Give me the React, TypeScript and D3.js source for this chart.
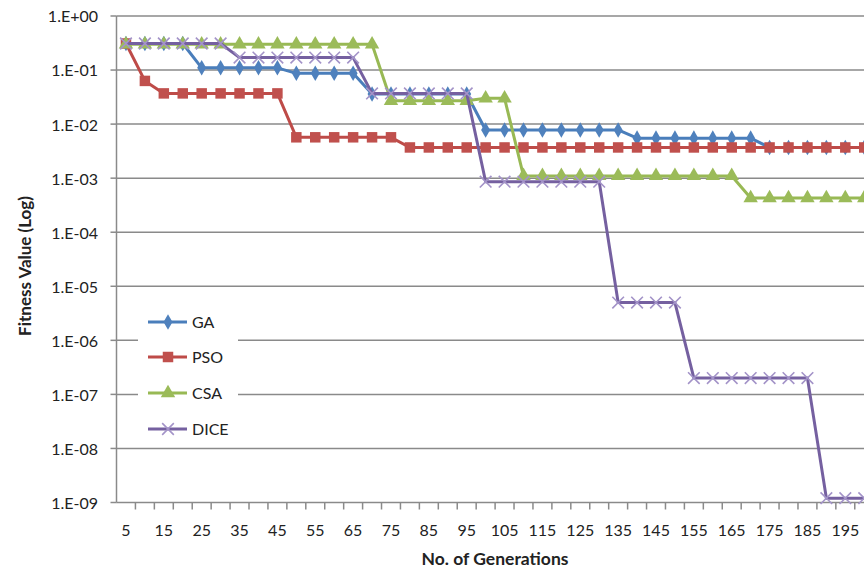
import React, { useEffect, useRef } from 'react';
import * as d3 from 'd3';

const generations = [5, 10, 15, 20, 25, 30, 35, 40, 45, 50, 55, 60, 65, 70, 75, 80, 85, 90, 95, 100,
    105, 110, 115, 120, 125, 130, 135, 140, 145, 150, 155, 160, 165, 170, 175, 180, 185, 190, 195, 200];

const gaValues = [0.31, 0.31, 0.31, 0.31, 0.11, 0.11, 0.11, 0.11, 0.11, 0.087, 0.087, 0.087, 0.087,
    0.036, 0.036, 0.036, 0.036, 0.036, 0.036, 0.0078, 0.0078, 0.0078, 0.0078, 0.0078, 0.0078, 0.0078, 0.0078,
    0.0055, 0.0055, 0.0055, 0.0055, 0.0055, 0.0055, 0.0055, 0.0037, 0.0037, 0.0037, 0.0037, 0.0037, 0.0037];

const psoValues = [0.31, 0.063, 0.037, 0.037, 0.037, 0.037, 0.037, 0.037, 0.037, 0.0057, 0.0057, 0.0057,
    0.0057, 0.0057, 0.0057, 0.0037, 0.0037, 0.0037, 0.0037, 0.0037, 0.0037, 0.0037, 0.0037, 0.0037, 0.0037,
    0.0037, 0.0037, 0.0037, 0.0037, 0.0037, 0.0037, 0.0037, 0.0037, 0.0037, 0.0037, 0.0037, 0.0037, 0.0037,
    0.0037, 0.0037];

const csaValues = [0.3, 0.3, 0.3, 0.3, 0.3, 0.3, 0.3, 0.3, 0.3, 0.3, 0.3, 0.3, 0.3, 0.3, 0.027, 0.027,
    0.027, 0.027, 0.027, 0.03, 0.03, 0.0011, 0.0011, 0.0011, 0.0011, 0.0011, 0.0011, 0.0011, 0.0011, 0.0011,
    0.0011, 0.0011, 0.0011, 0.00043, 0.00043, 0.00043, 0.00043, 0.00043, 0.00043, 0.00043];

const diceValues = [0.31, 0.31, 0.31, 0.31, 0.31, 0.31, 0.17, 0.17, 0.17, 0.17, 0.17, 0.17, 0.17, 0.037,
    0.037, 0.037, 0.037, 0.037, 0.037, 0.00086, 0.00086, 0.00086, 0.00086, 0.00086, 0.00086, 0.00086, 5e-6,
    5e-6, 5e-6, 5e-6, 2e-7, 2e-7, 2e-7, 2e-7, 2e-7, 2e-7, 2e-7, 1.2e-9, 1.2e-9, 1.2e-9];

const seriesNames = ['GA', 'PSO', 'CSA', 'DICE'];
const yTicks = [1, 1e-1, 1e-2, 1e-3, 1e-4, 1e-5, 1e-6, 1e-7, 1e-8, 1e-9];
const yTickLabels = ['1.E+00', '1.E-01', '1.E-02', '1.E-03', '1.E-04', '1.E-05', '1.E-06', '1.E-07', '1.E-08', '1.E-09'];
const xTickLabels = [5, 15, 25, 35, 45, 55, 65, 75, 85, 95, 105, 115, 125, 135, 145, 155, 165, 175, 185, 195];

const App = () => {
    const ref = useRef(null);

    useEffect(() => {
        drawChart();
    }, []);

    const drawChart = () => {
        const root = d3.select(ref.current);
        root.selectAll('*').remove();

        const width = 864;
        const height = 570;
        const font = 'Lato, "Open Sans", sans-serif';

        const svg = root.append('svg')
            .attr('width', width)
            .attr('height', height)
            .style('display', 'block')
            .style('background', '#fff');

        const left = 116.5;
        const top = 16;
        const bottom = 502.5;
        const step = 18.93;

        const xScale = d3.scaleBand()
            .domain(generations.map(String))
            .range([left, left + generations.length * step])
            .paddingInner(0)
            .paddingOuter(0);
        const cx = (g) => xScale(String(g)) + xScale.bandwidth() / 2;

        const yScale = d3.scaleLog()
            .domain([1e-9, 1])
            .range([bottom, top]);

        const gridColor = '#8a8a8a';

        // horizontal gridlines
        svg.append('g')
            .selectAll('line')
            .data(yTicks)
            .enter()
            .append('line')
            .attr('x1', left)
            .attr('x2', width)
            .attr('y1', d => yScale(d))
            .attr('y2', d => yScale(d))
            .attr('stroke', gridColor)
            .attr('stroke-width', 1.5);

        // y axis line and ticks
        svg.append('line')
            .attr('x1', left).attr('x2', left)
            .attr('y1', top).attr('y2', bottom)
            .attr('stroke', gridColor).attr('stroke-width', 1.5);

        svg.append('g')
            .selectAll('line')
            .data(yTicks)
            .enter()
            .append('line')
            .attr('x1', left - 6).attr('x2', left)
            .attr('y1', d => yScale(d)).attr('y2', d => yScale(d))
            .attr('stroke', gridColor).attr('stroke-width', 1.5);

        svg.append('g')
            .selectAll('text')
            .data(yTicks)
            .enter()
            .append('text')
            .attr('x', 98)
            .attr('y', d => yScale(d))
            .attr('dy', '0.4em')
            .attr('text-anchor', 'end')
            .attr('font-family', font)
            .attr('font-size', 16)
            .attr('fill', '#222')
            .text((d, i) => yTickLabels[i]);

        // x ticks at category boundaries
        svg.append('g')
            .selectAll('line')
            .data(generations)
            .enter()
            .append('line')
            .attr('x1', d => xScale(String(d)) + xScale.bandwidth())
            .attr('x2', d => xScale(String(d)) + xScale.bandwidth())
            .attr('y1', bottom).attr('y2', bottom + 7)
            .attr('stroke', gridColor).attr('stroke-width', 1.5);

        svg.append('g')
            .selectAll('text')
            .data(xTickLabels)
            .enter()
            .append('text')
            .attr('x', d => cx(d))
            .attr('y', 536)
            .attr('text-anchor', 'middle')
            .attr('font-family', font)
            .attr('font-size', 16)
            .attr('fill', '#222')
            .text(d => d);

        // legend background (covers gridlines)
        svg.append('rect')
            .attr('x', 138).attr('y', 304)
            .attr('width', 100).attr('height', 142)
            .attr('fill', '#fff');

        const series = [
            { name: seriesNames[0], values: gaValues, line: '#4a7ebb', fill: '#4f81bd', symbol: d3.symbolDiamond, size: 70 },
            { name: seriesNames[1], values: psoValues, line: '#be4b48', fill: '#c0504d', symbol: d3.symbolSquare, size: 110 },
            { name: seriesNames[2], values: csaValues, line: '#98b954', fill: '#9bbb59', symbol: d3.symbolTriangle, size: 90 },
            { name: seriesNames[3], values: diceValues, line: '#7560a0', fill: '#a393c8', symbol: d3.symbolX, size: 90 },
        ];

        const line = d3.line()
            .x((d, i) => cx(generations[i]))
            .y(d => yScale(d));

        series.forEach((s) => {
            svg.append('path')
                .datum(s.values)
                .attr('d', line)
                .attr('fill', 'none')
                .attr('stroke', s.line)
                .attr('stroke-width', 3)
                .attr('stroke-linejoin', 'round');

            const isX = s.symbol === d3.symbolX;
            svg.append('g')
                .selectAll('path')
                .data(s.values)
                .enter()
                .append('path')
                .attr('transform', (d, i) => `translate(${cx(generations[i])},${yScale(d)})`)
                .attr('d', d3.symbol().type(s.symbol).size(s.size)())
                .attr('fill', isX ? 'none' : s.fill)
                .attr('stroke', isX ? s.fill : 'none')
                .attr('stroke-width', isX ? 1.6 : 0);
        });

        // legend entries
        const legendRows = [322, 357, 393, 429];
        series.forEach((s, i) => {
            const y = legendRows[i];
            svg.append('line')
                .attr('x1', 148).attr('x2', 187)
                .attr('y1', y).attr('y2', y)
                .attr('stroke', s.line)
                .attr('stroke-width', 3);
            const isX = s.symbol === d3.symbolX;
            svg.append('path')
                .attr('transform', `translate(168,${y})`)
                .attr('d', d3.symbol().type(s.symbol).size(s.size)())
                .attr('fill', isX ? 'none' : s.fill)
                .attr('stroke', isX ? s.fill : 'none')
                .attr('stroke-width', isX ? 1.6 : 0);
            svg.append('text')
                .attr('x', 192)
                .attr('y', y)
                .attr('dy', '0.36em')
                .attr('font-family', font)
                .attr('font-size', 16)
                .attr('fill', '#222')
                .text(s.name);
        });

        // axis titles
        svg.append('text')
            .attr('x', 495)
            .attr('y', 565)
            .attr('text-anchor', 'middle')
            .attr('font-family', font)
            .attr('font-size', 17.5)
            .attr('font-weight', 'bold')
            .attr('fill', '#222')
            .text('No. of Generations');

        svg.append('text')
            .attr('transform', 'translate(31,266) rotate(-90)')
            .attr('text-anchor', 'middle')
            .attr('font-family', font)
            .attr('font-size', 17)
            .attr('font-weight', 'bold')
            .attr('fill', '#222')
            .text('Fitness Value (Log)');
    };

    return <div ref={ref} style={{ position: 'absolute', left: 0, top: 0 }}></div>;
};

export default App;
